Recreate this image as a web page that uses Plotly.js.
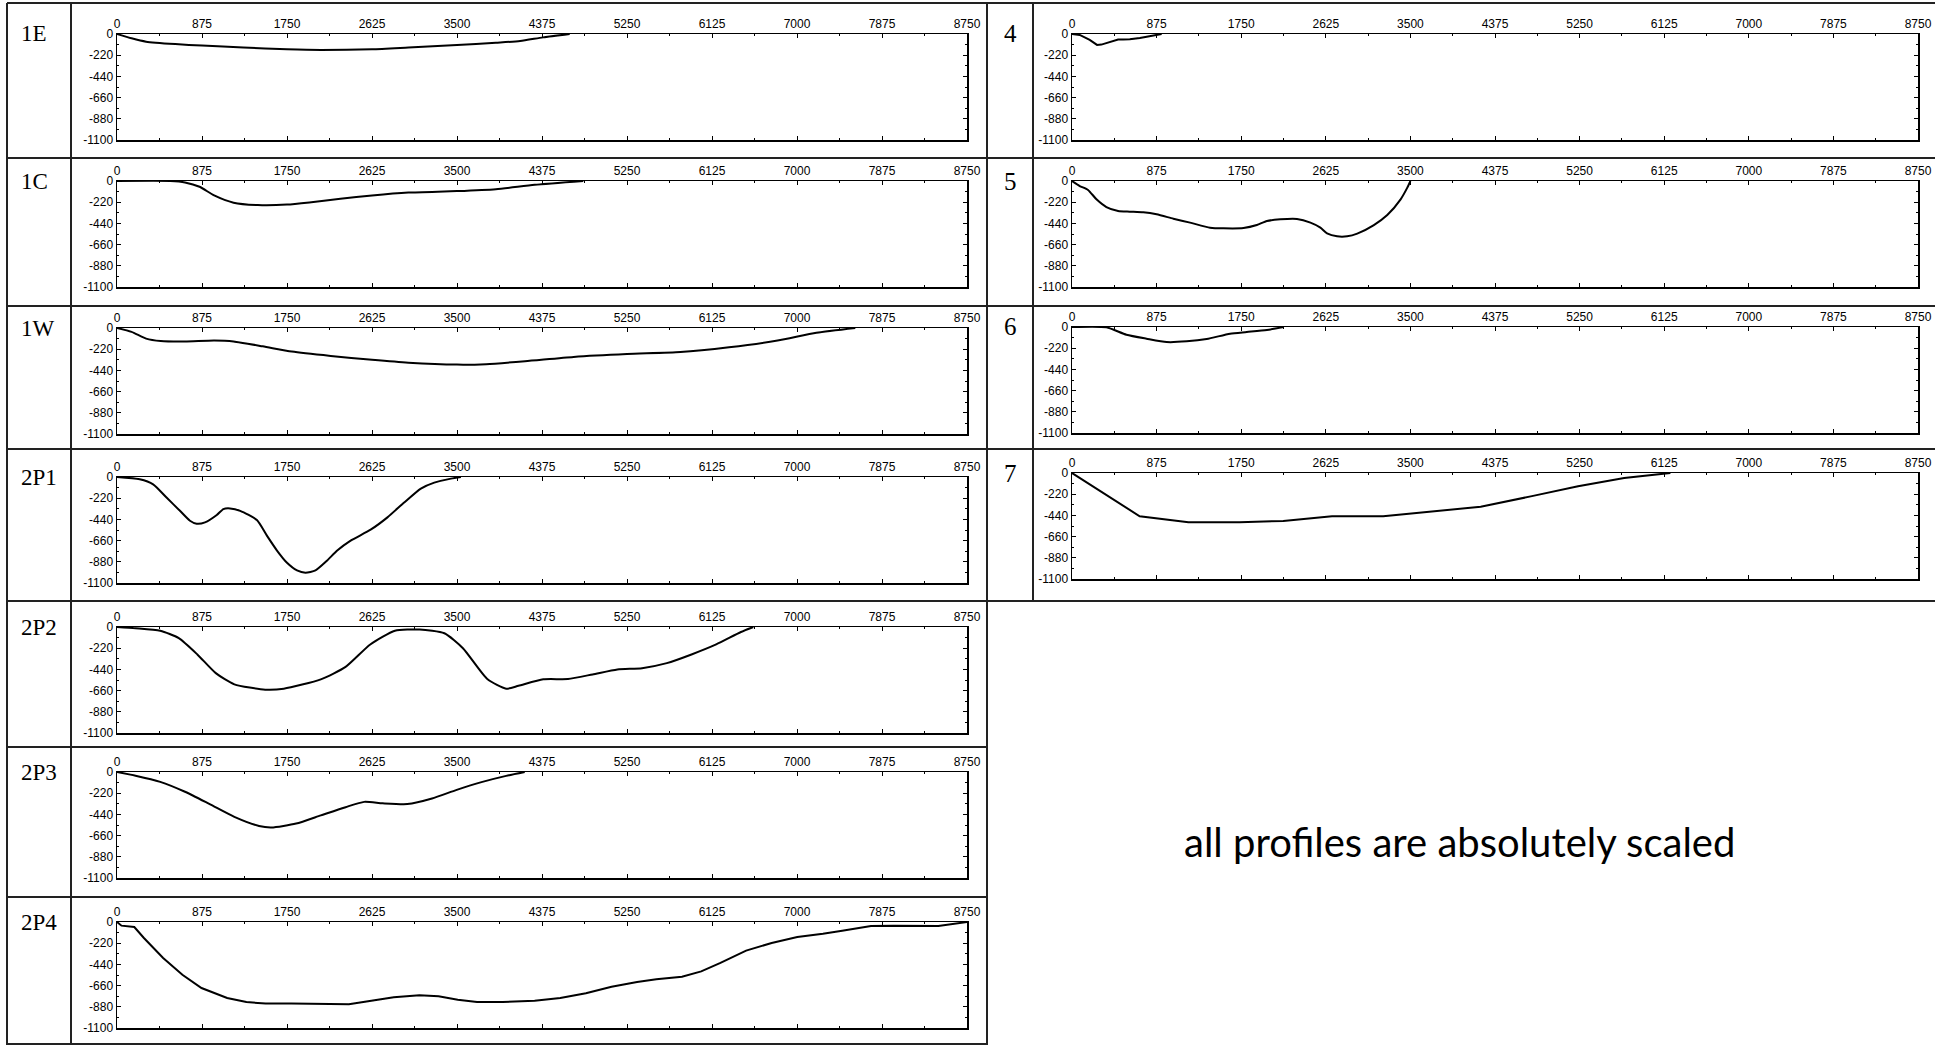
<!DOCTYPE html>
<html>
<head>
<meta charset="utf-8">
<script src="https://cdn.plot.ly/plotly-3.0.1.min.js"></script>
<style>
  html, body { margin: 0; padding: 0; background: #fff; }
  #chart { width: 1935px; height: 1045px; }
</style>
</head>
<body>
<div id="chart"></div>
<script>
// ---------------- data (distance m, depth m) ----------------
const profileNames = ["1E", "1C", "1W", "2P1", "2P2", "2P3", "2P4", "4", "5", "6", "7"];

const x1E = [0, 150, 300, 600, 875, 1300, 1750, 2100, 2625, 3000, 3500, 3900, 4150, 4385, 4660];
const y1E = [0, -45, -80, -105, -120, -140, -158, -165, -158, -140, -115, -90, -72, -35, 0];

const x1C = [0, 550, 700, 850, 1000, 1200, 1450, 1750, 2000, 2300, 2625, 3000, 3500, 3900, 4300, 4800];
const y1C = [0, 0, -15, -60, -150, -225, -250, -245, -220, -185, -150, -120, -105, -85, -40, 0];

const x1W = [0, 150, 300, 450, 700, 1000, 1200, 1500, 1800, 2200, 2625, 3000, 3500, 3800, 4200, 4700, 5250, 5800, 6300, 6800, 7200, 7600];
const y1W = [0, -40, -110, -135, -140, -130, -140, -190, -245, -290, -330, -360, -380, -375, -345, -300, -270, -250, -200, -130, -50, 0];

const x2P1 = [0, 234, 372, 510, 648, 751, 820, 906, 1027, 1095, 1164, 1268, 1440, 1543, 1647, 1750, 1853, 1940, 2043, 2164, 2267, 2405, 2611, 2784, 2956, 3128, 3266, 3438, 3540];
const y2P1 = [0, -24, -76, -213, -351, -454, -485, -471, -395, -333, -326, -351, -447, -608, -763, -890, -969, -993, -969, -866, -763, -660, -547, -419, -265, -120, -58, -17, 0];

const x2P2 = [0, 191, 445, 636, 827, 1017, 1208, 1526, 1717, 2098, 2353, 2607, 2861, 3116, 3370, 3561, 3815, 4006, 4133, 4388, 4642, 4896, 5151, 5405, 5660, 5914, 6168, 6423, 6550];
const y2P2 = [0, -13, -39, -116, -285, -479, -595, -650, -640, -543, -414, -181, -39, -26, -65, -220, -543, -640, -610, -543, -540, -492, -440, -427, -375, -285, -181, -52, 0];

const x2P3 = [0, 191, 445, 700, 954, 1208, 1462, 1590, 1844, 2098, 2353, 2544, 2734, 2988, 3243, 3497, 3752, 4006, 4197];
const y2P3 = [0, -38, -102, -205, -333, -465, -560, -575, -535, -450, -365, -310, -325, -333, -275, -185, -105, -40, 0];

const x2P4 = [0, 46, 178, 277, 475, 673, 870, 1134, 1332, 1530, 1794, 2058, 2387, 2585, 2849, 3113, 3310, 3508, 3706, 3970, 4299, 4563, 4827, 5091, 5354, 5552, 5816, 6014, 6212, 6476, 6739, 7003, 7135, 7267, 7465, 7663, 7762, 7993, 8455, 8750];
const y2P4 = [0, -38, -52, -166, -374, -547, -685, -789, -830, -847, -847, -847, -854, -823, -782, -761, -771, -806, -830, -830, -816, -789, -740, -671, -623, -595, -567, -512, -425, -297, -218, -156, -142, -121, -90, -62, -42, -38, -42, 0];

const x4 = [0, 80, 183, 259, 304, 391, 477, 529, 598, 702, 806, 909, 927];
const y4 = [0, -10, -62, -113, -110, -82, -58, -58, -55, -41, -21, -7, 0];

const x5 = [0, 80, 166, 253, 356, 477, 598, 737, 875, 1048, 1221, 1428, 1566, 1774, 1912, 2016, 2154, 2327, 2466, 2569, 2638, 2742, 2846, 2950, 3122, 3261, 3399, 3468, 3500];
const y5 = [0, -52, -93, -190, -270, -311, -318, -325, -346, -391, -432, -484, -491, -488, -457, -415, -398, -394, -432, -484, -543, -574, -574, -546, -457, -353, -190, -69, 0];

const x6 = [0, 356, 563, 771, 979, 1186, 1393, 1635, 1808, 2016, 2189];
const y6 = [0, -3, -80, -121, -156, -149, -125, -69, -52, -31, 0];

const x7 = [0, 700, 1204, 1734, 2185, 2689, 3219, 3749, 4227, 4757, 5234, 5711, 6136, 6189];
const y7 = [0, -449, -511, -511, -497, -449, -449, -394, -350, -240, -137, -51, -7, 0];

const xTickVals = [0, 875, 1750, 2625, 3500, 4375, 5250, 6125, 7000, 7875, 8750];
const xTickText = ["0", "875", "1750", "2625", "3500", "4375", "5250", "6125", "7000", "7875", "8750"];
const yTickVals = [0, -220, -440, -660, -880, -1100];
const yTickText = ["0", "-220", "-440", "-660", "-880", "-1100"];

const noteText = "all profiles are absolutely scaled";

// ---------------- layout geometry (pixels) ----------------
const W = 1935, H = 1045;
const fx = p => p / W;
const fy = p => 1 - p / H;

const plotH = 106;
const leftCol = { x0: 117, x1: 967, tops: [34, 181, 328, 477, 627, 772, 922] };
const rightCol = { x0: 1072, x1: 1918, tops: [34, 181, 327, 473] };

const series = [
  [x1E, y1E, 'spline'], [x1C, y1C, 'spline'], [x1W, y1W, 'spline'],
  [x2P1, y2P1, 'spline'], [x2P2, y2P2, 'spline'], [x2P3, y2P3, 'spline'],
  [x2P4, y2P4, 'linear'], [x4, y4, 'linear'], [x5, y5, 'spline'],
  [x6, y6, 'spline'], [x7, y7, 'linear']
];

const tickFont = { family: 'Liberation Sans, Arial, sans-serif', size: 12, color: '#000' };
const layout = {
  width: W, height: H,
  margin: { l: 0, r: 0, t: 0, b: 0 },
  paper_bgcolor: '#fff', plot_bgcolor: '#fff',
  showlegend: false,
  shapes: [], annotations: []
};
const traces = [];

series.forEach((s, i) => {
  const col = i < 7 ? leftCol : rightCol;
  const top = i < 7 ? col.tops[i] : col.tops[i - 7];
  const n = i + 1;
  const xa = 'xaxis' + (n === 1 ? '' : n);
  const ya = 'yaxis' + (n === 1 ? '' : n);
  const xr = 'x' + (n === 1 ? '' : n);
  const yr = 'y' + (n === 1 ? '' : n);
  traces.push({
    type: 'scatter', mode: 'lines', x: s[0], y: s[1], xaxis: xr, yaxis: yr,
    line: { color: '#000', width: 2, shape: s[2], smoothing: 0.6 },
    hoverinfo: 'skip', cliponaxis: true
  });
  layout[xa] = {
    domain: [fx(col.x0), fx(col.x1)], anchor: yr, side: 'top',
    range: [0, 8750], tickmode: 'array', tickvals: xTickVals, ticktext: xTickText,
    ticks: 'inside', ticklen: 4, tickwidth: 1, tickcolor: '#000',
    minor: { tickmode: 'linear', tick0: 437.5, dtick: 875, ticks: 'inside', ticklen: 2, tickwidth: 1, tickcolor: '#000', showgrid: false },
    showline: true, linecolor: '#000', linewidth: 1.5, mirror: 'allticks',
    showgrid: false, zeroline: false, tickfont: tickFont, ticklabelstandoff: 0,
    fixedrange: true
  };
  layout[ya] = {
    domain: [fy(top + plotH), fy(top)], anchor: xr,
    range: [-1100, 0], tickmode: 'array', tickvals: yTickVals, ticktext: yTickText,
    ticks: 'inside', ticklen: 4, tickwidth: 1, tickcolor: '#000',
    minor: { tickmode: 'linear', tick0: -110, dtick: 220, ticks: 'inside', ticklen: 2, tickwidth: 1, tickcolor: '#000', showgrid: false },
    showline: true, linecolor: '#000', linewidth: 1.5, mirror: 'allticks',
    showgrid: false, zeroline: false, tickfont: tickFont, ticklabelstandoff: 0,
    fixedrange: true
  };
  // profile label
  const isLeft = i < 7;
  layout.annotations.push({
    xref: 'paper', yref: 'paper',
    x: isLeft ? fx(19) : fx(1011), y: fy(top),
    xanchor: isLeft ? 'left' : 'center', yanchor: 'middle',
    text: profileNames[i], showarrow: false,
    font: { family: 'Liberation Serif, Times New Roman, serif', size: isLeft ? 23 : 25, color: '#000' }
  });
});

// table lines
const lineStyle = { color: '#222', width: 2 };
function hline(y, x0, x1) {
  layout.shapes.push({ type: 'line', xref: 'paper', yref: 'paper', x0: fx(x0), x1: fx(x1), y0: fy(y), y1: fy(y), line: lineStyle });
}
function vline(x, y0, y1) {
  layout.shapes.push({ type: 'line', xref: 'paper', yref: 'paper', x0: fx(x), x1: fx(x), y0: fy(y0), y1: fy(y1), line: lineStyle });
}
[3, 158, 306, 449, 601].forEach(y => hline(y, 7, 1935));
[747, 897, 1044].forEach(y => hline(y, 7, 987));
vline(7, 3, 1045);
vline(71, 3, 1045);
vline(987, 3, 1045);
vline(1033, 3, 601);

layout.annotations.push({
  xref: 'paper', yref: 'paper', x: fx(1459), y: fy(842),
  xanchor: 'center', yanchor: 'middle', showarrow: false,
  text: noteText,
  font: { family: 'Lato, Open Sans, sans-serif', size: 40, color: '#000' }
});

Plotly.newPlot('chart', traces, layout, { staticPlot: true, displayModeBar: false });
</script>
</body>
</html>
